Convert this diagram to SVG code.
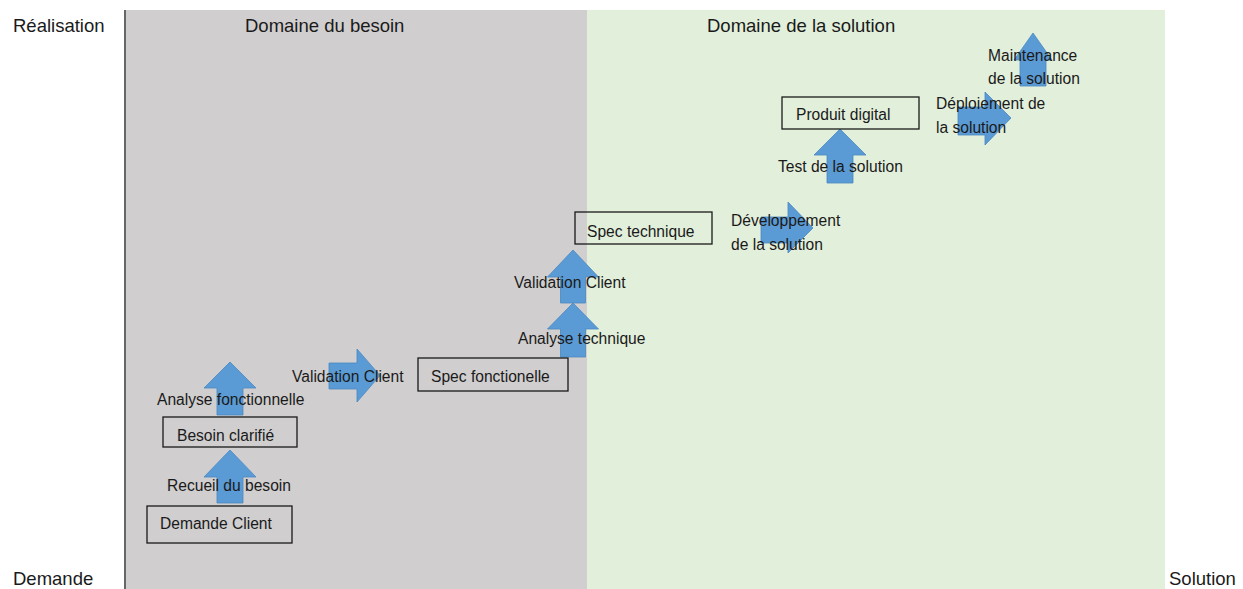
<svg xmlns="http://www.w3.org/2000/svg" width="1243" height="589" viewBox="0 0 1243 589">
<style>
text{font-family:"Liberation Sans",Arial,sans-serif;fill:#1a1a1a}
.h{font-size:18.5px}
.l{font-size:15.6px}
.box{fill:none;stroke:#1a1a1a;stroke-width:1.3}
.arr{fill:#5b9bd5;stroke:#4a88c2;stroke-width:0.8}
</style>
<rect width="1243" height="589" fill="#ffffff"/>
<g id="domaine-besoin">
<rect x="126" y="10" width="461" height="579" fill="#d0cece"/>
<text class="h" x="245" y="32">Domaine du besoin</text>
</g>
<g id="domaine-solution">
<rect x="587" y="10" width="578" height="579" fill="#e2efda"/>
<text class="h" x="707" y="32">Domaine de la solution</text>
</g>
<g id="axis">
<line x1="125" y1="10" x2="125" y2="589" stroke="#333" stroke-width="1.5"/>
<text class="h" x="13" y="32">Réalisation</text>
<text class="h" x="13" y="585">Demande</text>
<text class="h" x="1169" y="585">Solution</text>
</g>
<g id="connectors">
<path class="arr" d="M230,450 L256,477 L243,477 L243,503 L217,503 L217,477 L204,477 Z"/>
<path class="arr" d="M230,362 L256,388 L243,388 L243,415 L217,415 L217,388 L204,388 Z"/>
<path class="arr" d="M380,375.5 L357,402 L357,389 L329,389 L329,363 L357,363 L357,349 Z"/>
<path class="arr" d="M573,303 L598.5,329 L585.5,329 L585.5,357 L560.5,357 L560.5,329 L547.5,329 Z"/>
<path class="arr" d="M573,250 L598.5,277 L585.5,277 L585.5,303 L560.5,303 L560.5,277 L547.5,277 Z"/>
<path class="arr" d="M813,228 L788,253 L788,243 L761,243 L761,217 L788,217 L788,202 Z"/>
<path class="arr" d="M840,129 L866,155 L853,155 L853,183 L827,183 L827,155 L814,155 Z"/>
<path class="arr" d="M1011,118 L985,145 L985,135 L958,135 L958,107 L985,107 L985,92 Z"/>
<path class="arr" d="M1033,33 L1052,60 L1046,60 L1046,86 L1020,86 L1020,60 L1014,60 Z"/>
<text class="l" x="167" y="491">Recueil du besoin</text>
<text class="l" x="157" y="405">Analyse fonctionnelle</text>
<text class="l" x="292" y="382">Validation Client</text>
<text class="l" x="518" y="344">Analyse technique</text>
<text class="l" x="514" y="288">Validation Client</text>
<text class="l" x="731" y="226">Développement</text>
<text class="l" x="731" y="250">de la solution</text>
<text class="l" x="778" y="172">Test de la solution</text>
<text class="l" x="936" y="109">Déploiement de</text>
<text class="l" x="936" y="133">la solution</text>
<text class="l" x="988" y="61">Maintenance</text>
<text class="l" x="988" y="84">de la solution</text>
</g>
<g id="demande-client">
<rect class="box" x="147" y="506" width="145" height="37"/>
<text class="l" x="160" y="529">Demande Client</text>
</g>
<g id="besoin-clarifie">
<rect class="box" x="163" y="417" width="134" height="30"/>
<text class="l" x="177" y="441">Besoin clarifié</text>
</g>
<g id="spec-fonctionelle">
<rect class="box" x="418" y="358" width="150" height="33"/>
<text class="l" x="431" y="382">Spec fonctionelle</text>
</g>
<g id="spec-technique">
<rect class="box" x="575" y="212" width="137" height="32"/>
<text class="l" x="587" y="237">Spec technique</text>
</g>
<g id="produit-digital">
<rect class="box" x="782" y="97" width="137" height="32"/>
<text class="l" x="796" y="120">Produit digital</text>
</g>
</svg>
